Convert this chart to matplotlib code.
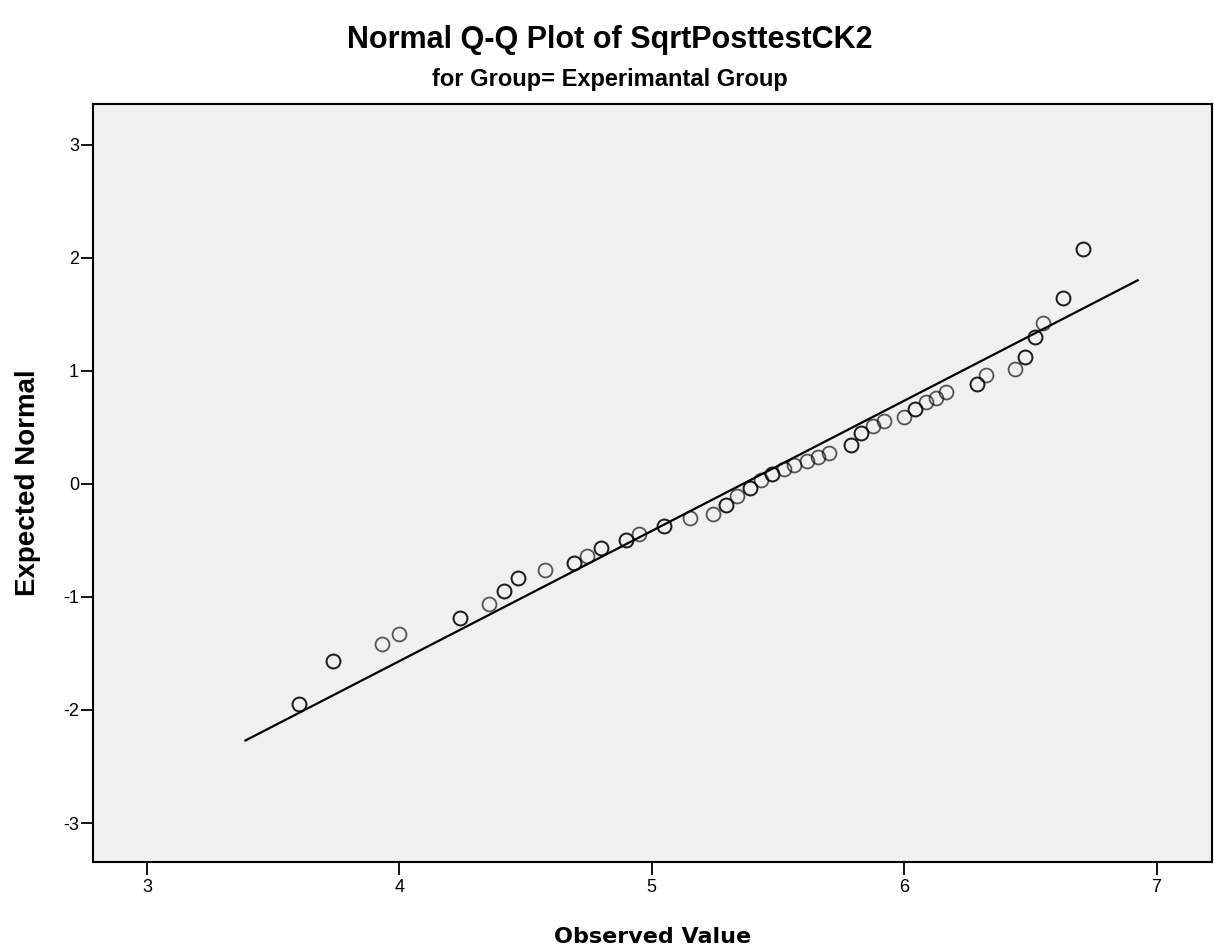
import numpy as np
import matplotlib.pyplot as plt

observed = [3.603, 3.738, 3.933, 4.000, 4.240, 4.357, 4.416, 4.470, 4.575, 4.690,
            4.742, 4.797, 4.897, 4.950, 5.048, 5.150, 5.242, 5.293, 5.337, 5.389,
            5.433, 5.476, 5.524, 5.563, 5.615, 5.659, 5.702, 5.790, 5.830, 5.877,
            5.920, 6.000, 6.044, 6.087, 6.127, 6.167, 6.290, 6.326, 6.440, 6.480,
            6.520, 6.550, 6.630, 6.710]
expected = [-1.95, -1.57, -1.42, -1.33, -1.19, -1.06, -0.95, -0.83, -0.76, -0.70,
            -0.64, -0.57, -0.50, -0.44, -0.37, -0.30, -0.27, -0.19, -0.11, -0.04,
            0.035, 0.09, 0.13, 0.17, 0.20, 0.24, 0.27, 0.345, 0.45, 0.51,
            0.56, 0.59, 0.66, 0.72, 0.76, 0.81, 0.88, 0.96, 1.02, 1.12,
            1.30, 1.42, 1.64, 2.08]
# tied cases: number of cases drawn at the same spot
counts = [2, 2, 1, 1, 2, 1, 2, 2, 1, 2,
          1, 2, 2, 1, 2, 1, 1, 2, 1, 2,
          1, 2, 1, 1, 1, 1, 1, 2, 2, 1,
          1, 1, 2, 1, 1, 1, 2, 1, 1, 2,
          2, 1, 2, 2]

# reference line end points
line_x = [3.39, 6.925]
line_y = [-2.27, 1.80]

xticks = [3, 4, 5, 6, 7]
yticks = [-3, -2, -1, 0, 1, 2, 3]

plt.rcParams['font.family'] = ['Liberation Sans', 'DejaVu Sans']
plt.rcParams['axes.unicode_minus'] = False

fig = plt.figure(figsize=(12.14, 9.52), dpi=100)
ax = fig.add_axes([0.0766, 0.0945, 0.9214, 0.7963])
ax.set_facecolor('#f0f0f0')

ax.plot(line_x, line_y, color='black', lw=1.6, zorder=2)

for x, y, c in zip(observed, expected, counts):
    for _ in range(c):
        ax.plot(x, y, 'o', ms=10, mfc='none', mec='black', mew=1.3, alpha=0.65, zorder=3)

ax.set_xlim(2.786, 7.218)
ax.set_ylim(-3.345, 3.36)
ax.set_xticks(xticks)
ax.set_yticks(yticks)
ax.tick_params(direction='out', length=9, width=1.3, labelsize=13)
ax.tick_params(axis='y', pad=1)
ax.tick_params(axis='x', pad=3)
for s in ax.spines.values():
    s.set_linewidth(1.5)

ax.set_xlabel('Observed Value', fontsize=16, fontweight='bold', family='DejaVu Sans')
ax.xaxis.label.set_va('center')
ax.xaxis.set_label_coords(0.5, -0.099)
ax.set_ylabel('Expected Normal', fontsize=20, fontweight='bold')
ax.yaxis.label.set_va('center')
ax.yaxis.set_label_coords(-0.058, 0.5)

fig.text(0.502, 0.958, 'Normal Q-Q Plot of SqrtPosttestCK2', ha='center', va='center',
         fontsize=22, fontweight='bold')
fig.text(0.502, 0.917, 'for Group= Experimantal Group', ha='center', va='center',
         fontsize=17, fontweight='bold')

fig.savefig('out.png', dpi=100)
